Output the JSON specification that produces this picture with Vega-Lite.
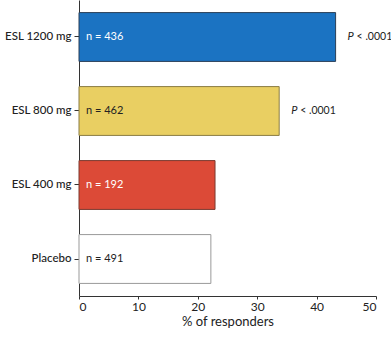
{
  "$schema": "https://vega.github.io/schema/vega-lite/v6.json",
  "autosize": "none",
  "width": 297,
  "height": 296,
  "padding": {"left": 79, "top": 0, "right": 15, "bottom": 43},
  "background": "white",
  "config": {"view": {"stroke": null}, "font": "Lato"},
  "data": {"values": [
    {"group": "ESL 1200 mg", "value": 43.2, "label": "n = 436", "p": "< .0001"},
    {"group": "ESL 800 mg", "value": 33.7, "label": "n = 462", "p": "< .0001"},
    {"group": "ESL 400 mg", "value": 22.9, "label": "n = 192", "p": ""},
    {"group": "Placebo", "value": 22.2, "label": "n = 491", "p": ""}
  ]},
  "encoding": {
    "y": {"field": "group", "type": "nominal", "sort": null,
      "scale": {"paddingInner": 0.34, "paddingOuter": 0.17},
      "axis": {"title": null, "labelFontSize": 11.5, "labelFontWeight": 500, "labelColor": "#222", "tickSize": 5, "tickColor": "#333", "domainColor": "#333", "labelPadding": 3}}
  },
  "layer": [
    {
      "mark": {"type": "bar", "stroke": "#555", "strokeWidth": 1},
      "encoding": {
        "x": {"field": "value", "type": "quantitative",
          "scale": {"domain": [0, 50]},
          "axis": {"values": [0, 10, 20, 30, 40, 50], "grid": false, "title": "% of responders", "titleFontSize": 13, "titleFontWeight": "normal", "titleColor": "#222", "titlePadding": 3, "labelFontSize": 12, "labelColor": "#222", "tickSize": 3, "tickColor": "#333", "domainColor": "#333", "labelPadding": 2}},
        "color": {"field": "group", "type": "nominal", "legend": null,
          "scale": {"domain": ["ESL 1200 mg", "ESL 800 mg", "ESL 400 mg", "Placebo"], "range": ["#1b73c2", "#e9cf62", "#dc4a37", "#ffffff"]}},
        "stroke": {"field": "group", "type": "nominal", "legend": null,
          "scale": {"domain": ["ESL 1200 mg", "ESL 800 mg", "ESL 400 mg", "Placebo"], "range": ["#2b3f57", "#8a7d45", "#7a3a30", "#999999"]}}
      }
    },
    {
      "mark": {"type": "text", "align": "left", "dx": 7, "fontSize": 11},
      "encoding": {
        "x": {"datum": 0, "type": "quantitative"},
        "text": {"field": "label"},
        "color": {"condition": {"test": "datum.group == 'ESL 1200 mg' || datum.group == 'ESL 400 mg'", "value": "#ffffff"}, "value": "#222222"}
      }
    },
    {
      "mark": {"type": "text", "align": "left", "dx": 12, "fontSize": 11, "fontStyle": "italic", "color": "#222"},
      "transform": [{"filter": "datum.p != ''"}],
      "encoding": {
        "x": {"field": "value", "type": "quantitative"},
        "text": {"value": "P"}
      }
    },
    {
      "mark": {"type": "text", "align": "left", "dx": 21, "fontSize": 10.5, "color": "#222"},
      "transform": [{"filter": "datum.p != ''"}],
      "encoding": {
        "x": {"field": "value", "type": "quantitative"},
        "text": {"field": "p"}
      }
    }
  ]
}
